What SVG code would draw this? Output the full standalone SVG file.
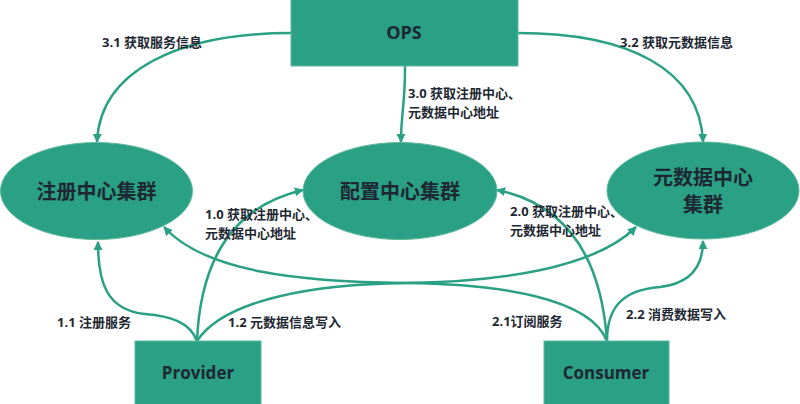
<svg xmlns="http://www.w3.org/2000/svg" width="800" height="404" viewBox="0 0 800 404">
<defs>
<marker id="arr" viewBox="0 0 10 10" refX="9" refY="5" markerWidth="9" markerHeight="9" markerUnits="userSpaceOnUse" orient="auto">
<path d="M0,0 L10,5 L0,10 z" fill="#2AA084"/>
</marker>
<style>
.node{fill:#2AA084;stroke:#5DB89F;stroke-width:1}
.nt{font-family:"Open Sans","Noto Sans CJK SC",sans-serif;font-weight:bold;fill:#1E2833;text-anchor:middle}
.lbl{font-family:"Open Sans","Noto Sans CJK SC",sans-serif;font-weight:bold;font-size:13px;fill:#1E2833}
.c{fill:none;stroke:#2AA084;stroke-width:2.5;marker-end:url(#arr)}
</style>
</defs>
<rect width="800" height="404" fill="#ffffff"/>
<g id="connectors">
<path class="c" d="M291,33 C180,33 100,70 97,142"/>
<path class="c" d="M518,33 C630,33 700,70 703,142"/>
<path class="c" d="M405,66 C405,110 401,110 401,142"/>
<path class="c" d="M197,341 C190,322 170,316 145,314 C105,310 98,280 98,242"/>
<path class="c" d="M197,341 C200,270 225,208 303,190"/>
<path class="c" d="M197,341 C225,298 320,284 405,283 C500,282 595,268 636,227"/>
<path class="c" d="M607,341 C590,298 500,284 405,283 C300,282 205,272 164,227"/>
<path class="c" d="M607,341 C602,270 575,206 497,190"/>
<path class="c" d="M607,341 C607,310 620,290 660,287 C695,283 703,262 703,241"/>
</g>
<g id="ops">
<rect class="node" x="291" y="-1" width="227" height="67"/>
<text class="nt" x="404" y="39" font-size="18">OPS</text>
</g>
<g id="registry">
<ellipse class="node" cx="96.5" cy="191" rx="96" ry="48.5"/>
<text class="nt" x="96.5" y="198.5" font-size="20">注册中心集群</text>
</g>
<g id="config">
<ellipse class="node" cx="400" cy="191" rx="97" ry="48.5"/>
<text class="nt" x="400" y="198.5" font-size="20">配置中心集群</text>
</g>
<g id="metadata">
<ellipse class="node" cx="703" cy="190.5" rx="96" ry="48.5"/>
<text class="nt" font-size="20"><tspan x="703" y="184.5">元数据中心</tspan><tspan x="703" dy="27">集群</tspan></text>
</g>
<g id="provider">
<rect class="node" x="135" y="341" width="126" height="64"/>
<text class="nt" x="198" y="379" font-size="17">Provider</text>
</g>
<g id="consumer">
<rect class="node" x="544" y="341" width="125" height="64"/>
<text class="nt" x="606" y="379" font-size="17">Consumer</text>
</g>
<g id="labels">
<text class="lbl" x="102" y="47">3.1 获取服务信息</text>
<text class="lbl" x="620" y="47">3.2 获取元数据信息</text>
<text class="lbl"><tspan x="408" y="97.5">3.0 获取注册中心、</tspan><tspan x="408" dy="19">元数据中心地址</tspan></text>
<text class="lbl"><tspan x="205" y="219">1.0 获取注册中心、</tspan><tspan x="205" dy="19">元数据中心地址</tspan></text>
<text class="lbl"><tspan x="510" y="216">2.0 获取注册中心、</tspan><tspan x="510" dy="19">元数据中心地址</tspan></text>
<text class="lbl" x="57" y="327">1.1 注册服务</text>
<text class="lbl" x="228" y="327">1.2 元数据信息写入</text>
<text class="lbl" x="492" y="326">2.1订阅服务</text>
<text class="lbl" x="626" y="319">2.2 消费数据写入</text>
</g>
</svg>
